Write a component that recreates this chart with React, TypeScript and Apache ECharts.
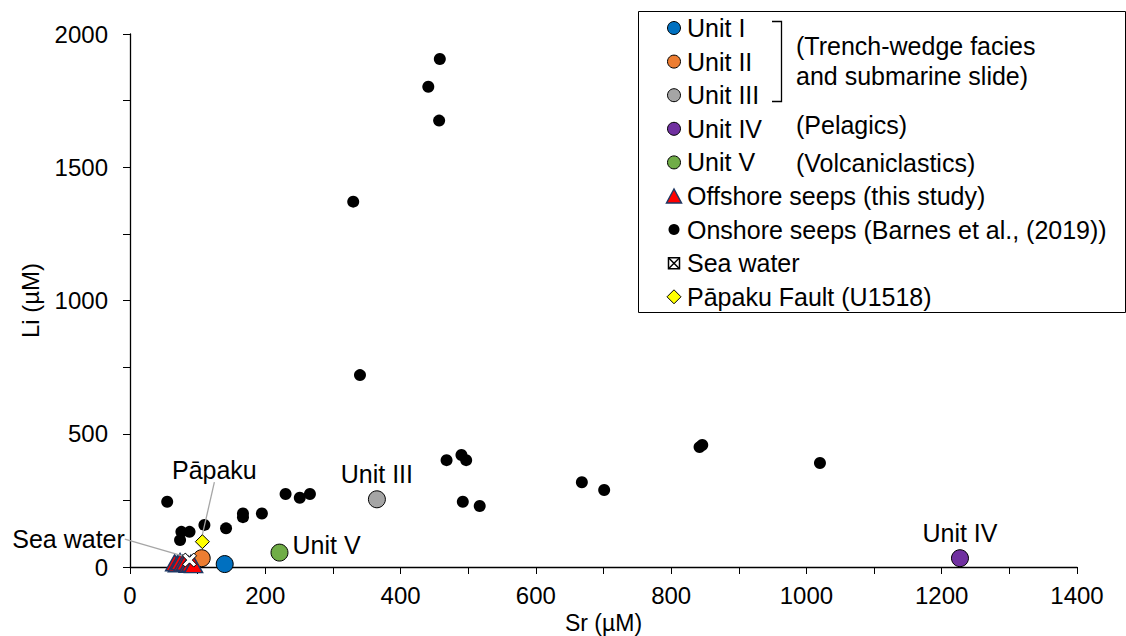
import React, { useEffect, useRef } from "react";
import * as echarts from "echarts";

// ---- data ----
const onshoreSr = [458, 441, 457, 330, 340, 468, 490, 497, 492, 517, 668, 701, 842, 846, 1020, 55, 76, 88, 74, 110, 142, 167, 167, 195, 230, 251, 266];
const onshoreLi = [1906, 1802, 1675, 1371, 720, 401, 420, 401, 245, 229, 318, 289, 450, 458, 390, 245, 132, 132, 101, 158, 145, 201, 187, 201, 274, 260, 274];

const offshoreSr = [66, 70, 74, 78, 82, 86, 90, 94];
const offshoreLi = [16, 12, 20, 14, 18, 10, 14, 9];

const unitNames = ["Unit I", "Unit II", "Unit III", "Unit IV", "Unit V"];
const unitSr = [140, 106, 365, 1227, 221];
const unitLi = [11, 33, 254, 33, 54];
const unitColors = ["#0070C0", "#ED7D31", "#A5A5A5", "#7030A0", "#70AD47"];

const seaWaterSr = [88];
const seaWaterLi = [26];

const papakuSr = [107];
const papakuLi = [95];

const xTicks = [0, 200, 400, 600, 800, 1000, 1200, 1400];
const yTicks = [0, 500, 1000, 1500, 2000];

const legendRows = [
  "Unit I",
  "Unit II",
  "Unit III",
  "Unit IV",
  "Unit V",
  "Offshore seeps (this study)",
  "Onshore seeps (Barnes et al., (2019))",
  "Sea water",
  "Pāpaku Fault (U1518)",
];

const FONT = "'Liberation Sans', Arial, sans-serif";
const CROSS = "path://M0,2L2,0L5,3L8,0L10,2L7,5L10,8L8,10L5,7L2,10L0,8L3,5Z";

export default function App() {
  const ref = useRef<HTMLDivElement>(null);
  useEffect(() => {
    if (!ref.current) return;
    const chart = echarts.init(ref.current, null, { renderer: "svg" });

    const zip = (a: number[], b: number[]) => a.map((v, i) => [v, b[i]]);

    const unitSeries = unitNames.map((name, i) => {
      const labelCfg: any = { show: false };
      if (name === "Unit III" || name === "Unit IV") {
        labelCfg.show = true;
        labelCfg.position = "top";
        labelCfg.distance = 4;
      } else if (name === "Unit V") {
        labelCfg.show = true;
        labelCfg.position = "right";
        labelCfg.distance = 4;
        labelCfg.offset = [0, -8];
      }
      return {
        name,
        type: "scatter",
        symbol: "circle",
        symbolSize: 17,
        z: 3,
        itemStyle: { color: unitColors[i], borderColor: "#000", borderWidth: 1, opacity: 1 },
        label: { ...labelCfg, formatter: name, color: "#000", fontSize: 25, fontFamily: FONT },
        data: [[unitSr[i], unitLi[i]]],
      };
    });

    const legendY0 = 28;
    const legendStep = 33.6;
    const mx = 674;
    const tx = 687;
    const legendGraphics: any[] = [
      {
        type: "rect",
        shape: { x: 638.5, y: 11.5, width: 487, height: 301 },
        style: { fill: "#fff", stroke: "#000", lineWidth: 1 },
        z: 10,
      },
    ];
    legendRows.forEach((txt, i) => {
      const cy = legendY0 + i * legendStep;
      legendGraphics.push({
        type: "text",
        x: tx,
        y: cy,
        style: { text: txt, fontSize: 25, fontFamily: FONT, fill: "#000", verticalAlign: "middle", align: "left" },
        z: 11,
      });
      if (i < 5) {
        legendGraphics.push({
          type: "circle",
          shape: { cx: mx, cy, r: 6.5 },
          style: { fill: unitColors[i], stroke: "#000", lineWidth: 1 },
          z: 11,
        });
      } else if (i === 5) {
        legendGraphics.push({
          type: "polygon",
          shape: { points: [[mx - 7.5, cy + 7], [mx, cy - 7], [mx + 7.5, cy + 7]] },
          style: { fill: "#FF0000", stroke: "#1F3864", lineWidth: 1.5 },
          z: 11,
        });
      } else if (i === 6) {
        legendGraphics.push({
          type: "circle",
          shape: { cx: mx, cy, r: 5.5 },
          style: { fill: "#000" },
          z: 11,
        });
      } else if (i === 7) {
        legendGraphics.push({
          type: "rect",
          shape: { x: mx - 5.5, y: cy - 5.5, width: 11, height: 11 },
          style: { fill: "#fff", stroke: "#000", lineWidth: 1.5 },
          z: 11,
        });
        legendGraphics.push({
          type: "line",
          shape: { x1: mx - 5.5, y1: cy - 5.5, x2: mx + 5.5, y2: cy + 5.5 },
          style: { stroke: "#000", lineWidth: 1.5 },
          z: 11,
        });
        legendGraphics.push({
          type: "line",
          shape: { x1: mx + 5.5, y1: cy - 5.5, x2: mx - 5.5, y2: cy + 5.5 },
          style: { stroke: "#000", lineWidth: 1.5 },
          z: 11,
        });
      } else {
        legendGraphics.push({
          type: "polygon",
          shape: { points: [[mx - 7, cy], [mx, cy - 7], [mx + 7, cy], [mx, cy + 7]] },
          style: { fill: "#FFFF00", stroke: "#000", lineWidth: 1 },
          z: 11,
        });
      }
    });
    const groupTexts = [
      { t: "(Trench-wedge facies", y: 46 },
      { t: "and submarine slide)", y: 76 },
      { t: "(Pelagics)", y: 125 },
      { t: "(Volcaniclastics)", y: 163 },
    ];
    groupTexts.forEach((g) => {
      legendGraphics.push({
        type: "text",
        x: 796,
        y: g.y,
        style: { text: g.t, fontSize: 25, fontFamily: FONT, fill: "#000", verticalAlign: "middle", align: "left" },
        z: 11,
      });
    });
    legendGraphics.push({
      type: "polyline",
      shape: { points: [[772, 21.5], [781.5, 21.5], [781.5, 101.5], [772, 101.5]] },
      style: { stroke: "#000", lineWidth: 1.3, fill: "none" },
      z: 11,
    });

    const option: any = {
      animation: false,
      backgroundColor: "#fff",
      textStyle: { fontFamily: FONT },
      grid: { left: 130, right: 49, top: 34, bottom: 69, containLabel: false, outerBoundsMode: "none" },
      xAxis: {
        type: "value",
        min: 0,
        max: 1400,
        interval: 100,
        name: "Sr (µM)",
        nameLocation: "middle",
        nameGap: 40,
        nameTextStyle: { fontSize: 23, color: "#000", fontFamily: FONT },
        axisLine: { show: true, onZero: false, lineStyle: { color: "#000", width: 1.3 } },
        axisTick: { show: true, inside: false, length: 7, lineStyle: { color: "#000", width: 1 } },
        axisLabel: {
          fontSize: 24,
          color: "#000",
          fontFamily: FONT,
          margin: 16,
          formatter: (v: number) => (xTicks.includes(v) ? String(v) : ""),
        },
        splitLine: { show: false },
      },
      yAxis: {
        type: "value",
        min: 0,
        max: 2000,
        interval: 250,
        name: "Li (µM)",
        nameLocation: "middle",
        nameGap: 88,
        nameTextStyle: { fontSize: 24, color: "#000", fontFamily: FONT },
        axisLine: { show: true, onZero: false, lineStyle: { color: "#000", width: 1.3 } },
        axisTick: { show: true, inside: false, length: 7, lineStyle: { color: "#000", width: 1 } },
        axisLabel: {
          fontSize: 24,
          color: "#000",
          fontFamily: FONT,
          margin: 22,
          formatter: (v: number) => (yTicks.includes(v) ? String(v) : ""),
        },
        splitLine: { show: false },
      },
      series: [
        ...unitSeries,
        {
          name: "Offshore seeps (this study)",
          type: "scatter",
          symbol: "triangle",
          symbolSize: [18, 16],
          z: 4,
          itemStyle: { color: "#FF0000", borderColor: "#1F3864", borderWidth: 1.5, opacity: 1 },
          data: zip(offshoreSr, offshoreLi),
        },
        {
          name: "Onshore seeps (Barnes et al., (2019))",
          type: "scatter",
          symbol: "circle",
          symbolSize: 12,
          z: 5,
          itemStyle: { color: "#000", opacity: 1 },
          data: zip(onshoreSr, onshoreLi),
        },
        {
          name: "Sea water",
          type: "scatter",
          symbol: CROSS,
          symbolSize: 14,
          z: 6,
          itemStyle: { color: "#fff", borderColor: "#000", borderWidth: 1, opacity: 1 },
          label: {
            show: true,
            formatter: "Sea water",
            position: "inside",
            color: "#000",
            fontSize: 25,
            fontFamily: FONT,
          },
          labelLayout: { dx: -121, dy: -21 },
          labelLine: { show: true, lineStyle: { color: "#A6A6A6", width: 1.3 } },
          data: zip(seaWaterSr, seaWaterLi),
        },
        {
          name: "Pāpaku Fault (U1518)",
          type: "scatter",
          symbol: "diamond",
          symbolSize: 14,
          z: 7,
          itemStyle: { color: "#FFFF00", borderColor: "#000", borderWidth: 1, opacity: 1 },
          label: {
            show: true,
            formatter: "Pāpaku",
            position: "inside",
            color: "#000",
            fontSize: 25,
            fontFamily: FONT,
          },
          labelLayout: { dx: 12, dy: -72 },
          labelLine: { show: true, lineStyle: { color: "#A6A6A6", width: 1.3 } },
          data: zip(papakuSr, papakuLi),
        },
      ],
      graphic: { elements: legendGraphics },
    };
    chart.setOption(option);
    return () => chart.dispose();
  }, []);
  return <div ref={ref} style={{ width: 1126, height: 636, position: "absolute", left: 0, top: 0 }} />;
}
